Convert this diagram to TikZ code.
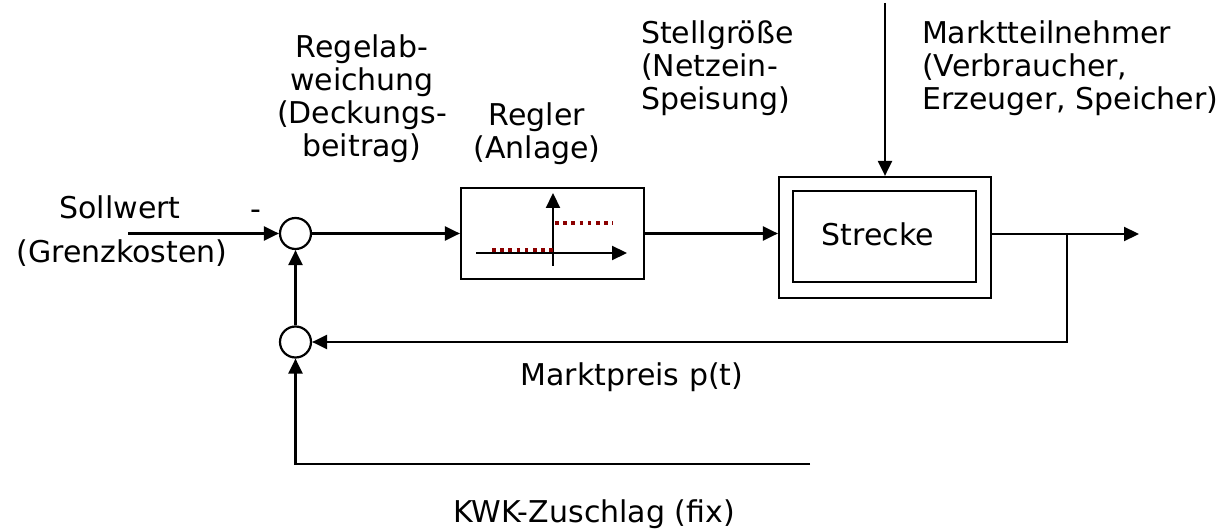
\documentclass[tikz,border=0pt]{standalone}
\usepackage{fontspec}
\setmainfont{DejaVu Sans}
\usetikzlibrary{arrows.meta}
\definecolor{dred}{HTML}{8B0000}
\begin{document}
\begin{tikzpicture}[x=1pt,y=-1pt,line width=2.2pt,
  >={Triangle[length=15pt,width=14pt]},
  lbl/.style={font=\fontsize{30}{33}\selectfont,inner sep=0pt,align=center},
  lbll/.style={font=\fontsize{30}{33}\selectfont,inner sep=0pt,align=left},
  sumpt/.style={draw,circle,minimum size=31pt,inner sep=0pt},
  blockbox/.style={draw,rectangle,inner sep=0pt},
  steppath/.style={dred,line width=3.5pt,dash pattern=on 3.5pt off 4.7pt}]
\useasboundingbox (0,0) rectangle (1219,529);
% shapes
\node[sumpt] (c1) at (295.5,233.5) {};
\node[sumpt] (c2) at (295.5,342) {};
\node[blockbox,minimum width=183pt,minimum height=91pt] (regler) at (552.5,233.5) {};
\node[blockbox,minimum width=212pt,minimum height=121pt] (outer) at (885,237.5) {};
\node[blockbox,minimum width=183pt,minimum height=91pt] (inner) at (884.5,236.5) {};
\node[lbl,anchor=base] (strecke) at (878,246) {Strecke};
% labels
\node[lbl,anchor=base] (soll) at (120,219) {Sollwert};
\node[lbl,anchor=base] (grenz) at (122,263) {(Grenzkosten)};
\node[lbl,anchor=base] (minus) at (256,220) {-};
\node[lbl,anchor=north] (abw) at (362,34) {Regelab-\\weichung\\(Deckungs-\\beitrag)};
\node[lbl,anchor=north] (reglerlbl) at (537,102) {Regler\\(Anlage)};
\node[lbll,anchor=north west] (stell) at (640,20) {Stellgröße\\(Netzein-\\Speisung)};
\node[lbll,anchor=north west] (markt) at (921,20) {Marktteilnehmer\\(Verbraucher,\\Erzeuger, Speicher)};
\node[lbl,anchor=base] (preis) at (632,386) {Marktpreis p(t)};
\node[lbl,anchor=base] (kwk) at (594,522) {KWK-Zuschlag (fix)};
% coordinates
\coordinate (in) at (128,233.5);
\coordinate (top) at (885,3);
\coordinate (out) at (1139,234);
\coordinate (br) at (1067,234);
\coordinate (kwkend) at (810,464);
% connectors
\draw[->] (in) -- (c1);
\draw[->] (c1) -- (regler);
\draw[->] (regler.east) -- (regler.east -| outer.west);
\draw[->] (top) -- (outer.north);
\draw[->] (outer.east |- br) -- (out);
\draw[->] (br) |- (c2);
\draw[->] (c2) -- (c1);
\draw[->] (kwkend) -| (c2);
% characteristic inside controller
\coordinate (hx1) at (476,253);
\coordinate (hx2) at (627,253);
\coordinate (vy1) at (553,266);
\coordinate (vy2) at (553,193);
\draw[->] (hx1) -- (hx2);
\draw[->] (vy1) -- (vy2);
\draw[steppath] (492,250) -- (553,250);
\draw[steppath] (555,223) -- (613,223);
\end{tikzpicture}
\end{document}
